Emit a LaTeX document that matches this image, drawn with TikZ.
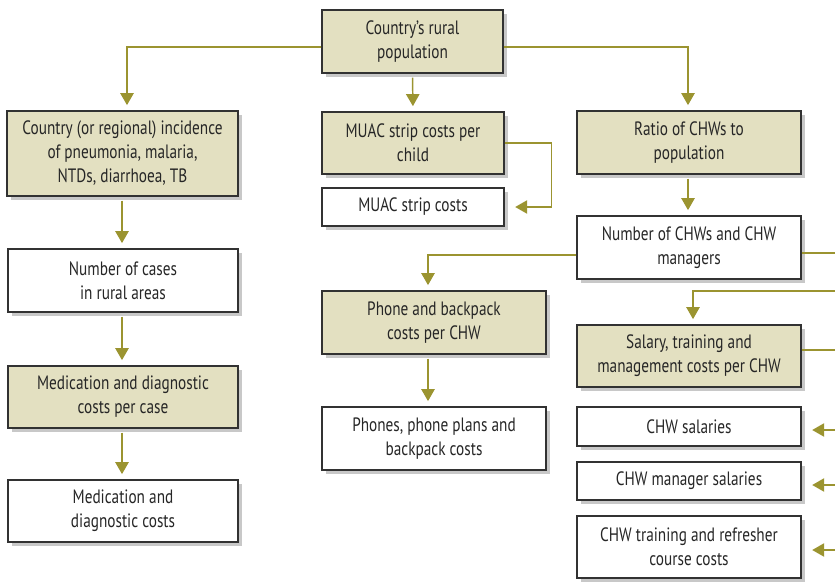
\documentclass[tikz,border=0pt]{standalone}
\usepackage{fontspec}
\setmainfont{PT Sans}[FakeStretch=0.79]
\usetikzlibrary{arrows.meta,shadows}
\definecolor{lineol}{RGB}{155,148,48}
\definecolor{tanfill}{RGB}{227,224,193}
\definecolor{boxline}{RGB}{50,50,50}
\definecolor{shadowgray}{RGB}{200,200,200}
\begin{document}
\begin{tikzpicture}[x=0.75pt,y=-0.75pt,
  box/.style={draw=boxline, line width=0.8pt, fill=white, align=center, inner sep=0pt,
    text=black!85, font=\fontsize{14.5}{18}\selectfont,
    drop shadow={shadow xshift=3pt,shadow yshift=-3pt,fill=shadowgray,opacity=1}},
  tanbox/.style={box, fill=tanfill},
  sz/.style 2 args={minimum width=#1*0.75pt, minimum height=#2*0.75pt},
  plainline/.style={draw=lineol, line width=1.1pt},
  conn/.style={plainline, -{Triangle[length=9pt,width=10pt]}, shorten >=4pt},
  sideconn/.style={plainline, -{Triangle[length=9pt,width=10pt]}, shorten >=8pt}]
\useasboundingbox (0,0) rectangle (835,583);

\node[tanbox, sz={181}{63}] (top) at (412.5,41.5) {Country’s rural\\population};
\node[tanbox, sz={231}{85}] (inc) at (122.5,153.5) {Country (or regional) incidence\\of pneumonia, malaria,\\NTDs, diarrhoea, TB};
\node[tanbox, sz={182}{62}] (muacpc) at (413,143) {MUAC strip costs per\\child};
\node[box, sz={182}{38}] (muac) at (413,207) {MUAC strip costs};
\node[tanbox, sz={224}{63}] (ratio) at (689,142.5) {Ratio of CHWs to\\population};
\node[box, sz={230}{63}] (cases) at (123,280.5) {Number of cases\\in rural areas};
\node[tanbox, sz={230}{62}] (med) at (123,397) {Medication and diagnostic\\costs per case};
\node[box, sz={230}{62}] (medc) at (123,511) {Medication and\\diagnostic costs};
\node[box, sz={224}{63}] (nchw) at (689,247.5) {Number of CHWs and CHW\\managers};
\node[tanbox, sz={224}{63}] (phone) at (434,322.5) {Phone and backpack\\costs per CHW};
\node[box, sz={224}{63}] (phones) at (434,438.5) {Phones, phone plans and\\backpack costs};
\node[tanbox, sz={224}{62}] (sal) at (689,356) {Salary, training and\\management costs per CHW};
\node[box, sz={224}{39}] (chws) at (689,426.5) {CHW salaries};
\node[box, sz={224}{38}] (mgr) at (689,481) {CHW manager salaries};
\node[box, sz={224}{62}] (train) at (689,547) {CHW training and refresher\\course costs};

\coordinate (e1) at (835,253);
\coordinate (e2) at (835,291);
\coordinate (e3) at (835,350);
\coordinate (e4) at (835,430);
\coordinate (e5) at (835,485);
\coordinate (e6) at (835,550);

\draw[conn] (top.west |- 0,47) -| (inc.north -| 127,0);
\draw[conn] (top.east |- 0,47) -| (ratio.north -| 688,0);
\draw[conn, shorten <=3pt] (top.south) -- (muacpc.north);
\draw[sideconn] (muacpc.east) -- ++(47,0) |- (muac.east);
\draw[conn, shorten <=3pt] (inc.south -| 122,0) -- (cases.north -| 122,0);
\draw[conn, shorten <=3pt] (cases.south -| 122,0) -- (med.north -| 122,0);
\draw[conn, shorten <=3pt] (med.south -| 122,0) -- (medc.north -| 122,0);
\draw[conn, shorten <=3pt] (ratio.south -| 688,0) -- (nchw.north -| 688,0);
\draw[conn] (nchw.west |- 0,255) -| (phone.north -| 428,0);
\draw[conn, shorten <=3pt] (phone.south -| 428,0) -- (phones.north -| 428,0);
\draw[plainline] (nchw.east |- e1) -- (e1);
\draw[conn] (e2) -| (sal.north -| 693,0);
\draw[plainline] (sal.east |- e3) -- (e3);
\draw[sideconn] (e4) -- (chws.east |- e4);
\draw[sideconn] (e5) -- (mgr.east |- e5);
\draw[sideconn] (e6) -- (train.east |- e6);
\end{tikzpicture}
\end{document}
